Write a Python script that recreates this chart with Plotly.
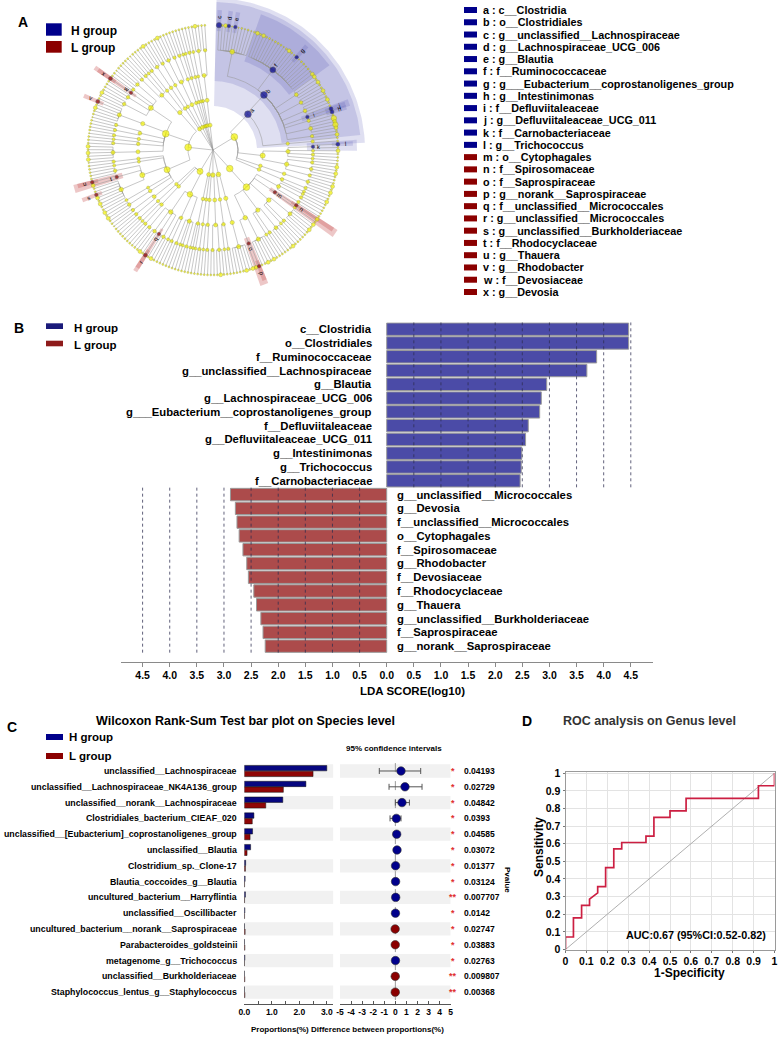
import numpy as np
import plotly.graph_objects as go

W, H = 778, 1039
FONT = "Liberation Sans, Arial, sans-serif"
NAVY = "#00008b"
DRED = "#8b0000"

# ---------------- Panel A : cladogram ----------------
# phylum > class > order > family ; each family is a string with one digit per genus (dot size class)
firmicutes = [
    [["423212121212", "3232212221232121221213", "3232", "232", "2322", "3", "32", "4343", "23"], ["22"]],
    [["32", "3", "22", "2"], ["23", "232", "22"]],
    [["323"]],
    [["22", "3"]],
]
bacteroidetes = [
    [["2", "22", "22"], ["3", "2"], ["32322", "22", "2"], ["2322", "22", "2"], ["232322", "23"]],
]
chloroflexi = [[["323222"]], [["22", "2"]]]
planctomycetes = [[["232", "22"]], [["22", "2"]]]
patescibacteria = [[["22"]], [["2", "2", "2"]]]
actinobacteria = [
    [["22", "2", "2", "22"], ["22", "2"], ["232", "3", "232", "22"]],
    [["22", "2"]],
    [["22"]],
]
proteobacteria = [
    [["22", "12"], ["232"], ["3"], ["22323222", "32", "222"], ["2"], ["21"]],
    [["32323"], ["22", "2"], ["12"], ["22", "21"], ["223232"], ["232", "222", "3", "22", "122"]],
    [["22", "21", "2"], ["22"]],
]
verrucomicrobia = [[["232"]], [["22"]]]
acidobacteria = [[["232", "22"]]]
gemmatimonadetes = [[["22"]]]
deinococcus = [[["2", "2"]]]
cyanobacteria = [[["22"]], [["2"]]]
spirochaetes = [[["232", "22"]]]
phyla = [firmicutes, bacteroidetes, chloroflexi, planctomycetes, patescibacteria, actinobacteria,
         proteobacteria, verrucomicrobia, acidobacteria, gemmatimonadetes, deinococcus, cyanobacteria, spirochaetes]

biomarker_letters = list("abcdefghijklmnopqrstuvwx")
biomarker_names = ["c__Clostridia", "o__Clostridiales", "g__unclassified__Lachnospiraceae",
                   "g__Lachnospiraceae_UCG_006", "g__Blautia", "f__Ruminococcaceae",
                   "g___Eubacterium__coprostanoligenes_group", "g__Intestinimonas", "f__Defluviitaleaceae",
                   "g__Defluviitaleaceae_UCG_011", "f__Carnobacteriaceae", "g__Trichococcus",
                   "o__Cytophagales", "f__Spirosomaceae", "f__Saprospiraceae", "g__norank__Saprospiraceae",
                   "f__unclassified__Micrococcales", "g__unclassified__Micrococcales",
                   "g__unclassified__Burkholderiaceae", "f__Rhodocyclaceae", "g__Thauera", "g__Rhodobacter",
                   "f__Devosiaceae", "g__Devosia"]
biomarker_group = ["H"] * 12 + ["L"] * 12
biomarker_paths = [(0, 0), (0, 0, 0), (0, 0, 0, 0, 0), (0, 0, 0, 0, 3), (0, 0, 0, 0, 5), (0, 0, 0, 1),
                   (0, 0, 0, 1, 14), (0, 0, 0, 6, 0), (0, 0, 0, 5), (0, 0, 0, 5, 0), (0, 1, 0, 0), (0, 1, 0, 0, 0),
                   (1, 0, 1), (1, 0, 1, 0), (1, 0, 4, 1), (1, 0, 4, 1, 0), (5, 0, 2, 1), (5, 0, 2, 1, 0),
                   (6, 0, 3, 0, 5), (6, 0, 3, 1), (6, 0, 3, 1, 1), (6, 1, 4, 0, 4), (6, 1, 5, 2), (6, 1, 5, 2, 0)]

# ---------------- Panel B : LDA ----------------
lda_h_names = ["c__Clostridia", "o__Clostridiales", "f__Ruminococcaceae", "g__unclassified__Lachnospiraceae",
               "g__Blautia", "g__Lachnospiraceae_UCG_006", "g___Eubacterium__coprostanoligenes_group",
               "f__Defluviitaleaceae", "g__Defluviitaleaceae_UCG_011", "g__Intestinimonas", "g__Trichococcus",
               "f__Carnobacteriaceae"]
lda_h = [4.46, 4.46, 3.87, 3.69, 2.95, 2.85, 2.82, 2.61, 2.56, 2.49, 2.48, 2.46]
lda_l_names = ["g__unclassified__Micrococcales", "g__Devosia", "f__unclassified__Micrococcales",
               "o__Cytophagales", "f__Spirosomaceae", "g__Rhodobacter", "f__Devosiaceae", "f__Rhodocyclaceae",
               "g__Thauera", "g__unclassified__Burkholderiaceae", "f__Saprospiraceae", "g__norank__Saprospiraceae"]
lda_l = [2.88, 2.79, 2.76, 2.72, 2.65, 2.58, 2.55, 2.45, 2.40, 2.32, 2.28, 2.24]

# ---------------- Panel C : Wilcoxon ----------------
species = ["unclassified__Lachnospiraceae", "unclassified__Lachnospiraceae_NK4A136_group",
           "unclassified__norank__Lachnospiraceae", "Clostridiales_bacterium_CIEAF_020",
           "unclassified__[Eubacterium]_coprostanoligenes_group", "unclassified__Blautia",
           "Clostridium_sp._Clone-17", "Blautia_coccoides_g__Blautia", "uncultured_bacterium__Harryflintia",
           "unclassified__Oscillibacter", "uncultured_bacterium__norank__Saprospiraceae",
           "Parabacteroides_goldsteinii", "metagenome_g__Trichococcus", "unclassified__Burkholderiaceae",
           "Staphylococcus_lentus_g__Staphylococcus"]
prop_h = [3.00, 2.24, 1.40, 0.35, 0.30, 0.23, 0.05, 0.03, 0.04, 0.02, 0.008, 0.008, 0.02, 0.006, 0.006]
prop_l = [2.50, 1.42, 0.78, 0.29, 0.21, 0.10, 0.04, 0.01, 0.01, 0.01, 0.03, 0.02, 0.006, 0.018, 0.02]
diff_est = [0.51, 0.87, 0.60, 0.09, 0.12, 0.15, 0.02, 0.02, 0.03, 0.01, -0.02, -0.01, 0.01, -0.01, -0.01]
ci_low = [-1.45, -0.57, 0.00, -0.48, -0.10, 0.02, -0.02, -0.01, 0.00, -0.01, -0.05, -0.03, 0.00, -0.03, -0.03]
ci_high = [2.29, 2.41, 1.27, 0.51, 0.30, 0.28, 0.06, 0.05, 0.06, 0.03, 0.01, 0.01, 0.02, 0.01, 0.01]
pvalues = ["0.04193", "0.02729", "0.04842", "0.0393", "0.04585", "0.03072", "0.01377", "0.03124",
           "0.007707", "0.0142", "0.02747", "0.03883", "0.02763", "0.009807", "0.00368"]
ci_ticks = [-5, -4, -3, -2, -1, 0, 1, 2, 3, 4, 5]

# ---------------- Panel D : ROC ----------------
roc_fpr = [0, 0, 0.038, 0.038, 0.077, 0.077, 0.115, 0.115, 0.154, 0.154, 0.192, 0.192, 0.231, 0.231,
           0.269, 0.269, 0.385, 0.385, 0.423, 0.423, 0.5, 0.5, 0.577, 0.577, 0.923, 0.923, 1.0, 1.0]
roc_tpr = [0, 0.071, 0.071, 0.179, 0.179, 0.25, 0.25, 0.286, 0.321, 0.357, 0.357, 0.464, 0.464, 0.571,
           0.571, 0.607, 0.607, 0.643, 0.643, 0.75, 0.75, 0.786, 0.786, 0.857, 0.857, 0.929, 0.929, 1.0]
auc_text = "AUC:0.67 (95%CI:0.52-0.82)"


# ======================= helpers =======================
def xdom(a, b):
    return [a / W, b / W]


def ydom(top, bottom):
    return [1 - bottom / H, 1 - top / H]


annotations = []
shapes = []


def ann(text, x, y, size, xanchor="center", yanchor="middle", color="black", angle=0,
        xref="paper", yref="paper", bold=True):
    if xref == "paper":
        x = x / W
    if yref == "paper":
        y = 1 - y / H
    annotations.append(dict(text=text, x=x, y=y, xref=xref, yref=yref, showarrow=False,
                            xanchor=xanchor, yanchor=yanchor, textangle=angle, borderpad=0,
                            font=dict(family=FONT, size=size, color=color,
                                      weight="bold" if bold else "normal")))


def rect_px(x0, y0, x1, y1, color):
    shapes.append(dict(type="rect", xref="paper", yref="paper", x0=x0 / W, x1=x1 / W,
                       y0=1 - y1 / H, y1=1 - y0 / H, fillcolor=color, line=dict(width=0)))


fig = go.Figure()

# ======================= Panel A =======================
RING = [0, 25, 50, 75, 100, 125]
GENUS_DOT = [0, 1.3, 1.9, 3.9, 5.4]
THETA0, SPAN = 2.0, 355.0


def count_leaves(item):
    if isinstance(item, str):
        return len(item)
    return sum(count_leaves(c) for c in item)


N_LEAF = count_leaves(phyla)
STEP = SPAN / N_LEAF


def leaf_theta(i):
    return THETA0 + (i + 0.5) * STEP


nodes = {}
counter = [0]


def build(item, level, path):
    if isinstance(item, str):
        kids = []
        for gi, ch in enumerate(item):
            idx = counter[0]
            counter[0] += 1
            k = dict(level=5, theta=leaf_theta(idx), lo=idx, hi=idx, size=GENUS_DOT[int(ch)],
                     path=path + (gi,), kids=[])
            nodes[k["path"]] = k
            kids.append(k)
    else:
        kids = [build(c, level + 1, path + (ci,)) for ci, c in enumerate(item)]
    lo, hi = kids[0]["lo"], kids[-1]["hi"]
    node = dict(level=level, theta=(leaf_theta(lo) + leaf_theta(hi)) / 2, lo=lo, hi=hi,
                size=min(6.8, 2.2 + 0.8 * np.sqrt(hi - lo + 1)), path=path, kids=kids)
    nodes[path] = node
    return node


root = build(phyla, 0, ())


def polar(r, th):
    t = np.radians(th)
    return r * np.sin(t), r * np.cos(t)


# highlight wedges
for letter, path, grp in zip(biomarker_letters, biomarker_paths, biomarker_group):
    nd = nodes[tuple(path)]
    lvl = nd["level"]
    pad = 0.9 if (lvl == 5 or grp == "L") else 1.4
    t1 = leaf_theta(nd["lo"]) - pad
    t2 = leaf_theta(nd["hi"]) + pad
    r_in = RING[lvl] - 6
    r_out = 140 + (5 - lvl) * 4
    ts = np.linspace(t1, t2, max(3, int((t2 - t1) / 1.0) + 2))
    pts = [polar(r_out, t) for t in ts] + [polar(r_in, t) for t in ts[::-1]]
    pts.append(pts[0])
    col = "rgba(55,55,165,0.16)" if grp == "H" else "rgba(200,80,80,0.32)"
    fig.add_trace(go.Scatter(x=[p[0] for p in pts], y=[p[1] for p in pts], mode="lines", fill="toself",
                             fillcolor=col, line=dict(width=0), hoverinfo="skip", xaxis="x", yaxis="y"))

# edges
ex, ey = [], []


def add_edges(node):
    r0 = RING[node["level"]]
    for k in node["kids"]:
        r1 = RING[k["level"]]
        pts = []
        if r0 > 0:
            nseg = int(abs(k["theta"] - node["theta"]) / 1.0) + 2
            for t in np.linspace(node["theta"], k["theta"], nseg):
                pts.append(polar(r0, t))
        else:
            pts.append((0.0, 0.0))
        pts.append(polar(r1, k["theta"]))
        for x, y in pts:
            ex.append(x)
            ey.append(y)
        ex.append(None)
        ey.append(None)
        add_edges(k)


add_edges(root)
fig.add_trace(go.Scatter(x=ex, y=ey, mode="lines", line=dict(color="#999999", width=0.55),
                         hoverinfo="skip", xaxis="x", yaxis="y"))

bm_col = {tuple(p): (NAVY if g == "H" else DRED) for p, g in zip(biomarker_paths, biomarker_group)}
yx, yy, ys, bx, by, bs, bc = [], [], [], [], [], [], []
for path, nd in nodes.items():
    if nd["level"] == 0 or nd["size"] <= 0:
        continue
    x, y = polar(RING[nd["level"]], nd["theta"])
    if path in bm_col:
        bx.append(x); by.append(y); bs.append(max(nd["size"], 3.5)); bc.append(bm_col[path])
    else:
        yx.append(x); yy.append(y); ys.append(nd["size"])
fig.add_trace(go.Scatter(x=yx, y=yy, mode="markers", hoverinfo="skip", xaxis="x", yaxis="y",
                         marker=dict(size=ys, color="#f5f500", line=dict(color="#8f8f20", width=0.5))))
fig.add_trace(go.Scatter(x=bx, y=by, mode="markers", hoverinfo="skip", xaxis="x", yaxis="y",
                         marker=dict(size=bs, color=bc, line=dict(color="#333333", width=0.5))))

for letter, path in zip(biomarker_letters, biomarker_paths):
    nd = nodes[tuple(path)]
    r = RING[nd["level"]] + (8 if nd["level"] == 5 else 6)
    x, y = polar(r, nd["theta"])
    th = nd["theta"]
    ang = th - 90 if th <= 180 else th - 270
    ann(letter, x, y, 6, xref="x", yref="y", angle=ang, bold=False)

# Panel A legends
ann("A", 23, 22, 14)
rect_px(46, 23.3, 61.7, 35.7, NAVY)
rect_px(46, 41, 61.7, 52.7, DRED)
ann("H group", 70, 31, 12, xanchor="left")
ann("L group", 70, 48, 12, xanchor="left")
for i, (letter, name, grp) in enumerate(zip(biomarker_letters, biomarker_names, biomarker_group)):
    yc = 10 + i * 12.26
    rect_px(464, yc - 3, 477, yc + 3, NAVY if grp == "H" else DRED)
    ann(f"{letter} : {name}", 482, yc, 10.8, xanchor="left")

# ======================= Panel B =======================
rows_h = list(range(len(lda_h)))
rows_l = [len(lda_h) + i for i in range(len(lda_l))]
fig.add_trace(go.Bar(x=lda_h, y=rows_h, orientation="h", width=0.9, xaxis="x2", yaxis="y2", hoverinfo="skip",
                     marker=dict(color="#4b4ba7", line=dict(color="#9a9a9a", width=1))))
fig.add_trace(go.Bar(x=[-v for v in lda_l], y=rows_l, orientation="h", width=0.9, xaxis="x2", yaxis="y2",
                     hoverinfo="skip", marker=dict(color="#ac4b4b", line=dict(color="#9a9a9a", width=1))))
for i, name in zip(rows_h, lda_h_names):
    ann(name, -0.26, i, 11.3, xanchor="right", xref="x2", yref="y2")
for i, name in zip(rows_l, lda_l_names):
    ann(name, 0.18, i, 11.3, xanchor="left", xref="x2", yref="y2")
grid_b = [0.5, 1.0, 1.5, 2.0, 2.5, 3.0, 3.5, 4.0, 4.5]
for v in grid_b:
    shapes.append(dict(type="line", xref="x2", yref="y2", x0=v, x1=v, y0=-0.5, y1=len(lda_h) - 0.5,
                       line=dict(color="rgba(45,45,80,0.75)", width=1, dash="dot"), layer="above"))
    shapes.append(dict(type="line", xref="x2", yref="y2", x0=-v, x1=-v, y0=len(lda_h) - 0.5,
                       y1=len(lda_h) + len(lda_l) - 0.5,
                       line=dict(color="rgba(45,45,80,0.75)", width=1, dash="dot"), layer="above"))
ticks_b = [-4.5, -4.0, -3.5, -3.0, -2.5, -2.0, -1.5, -1.0, -0.5, 0.0, 0.5, 1.0, 1.5, 2.0, 2.5, 3.0, 3.5, 4.0, 4.5]
ann("B", 19, 328, 14)
rect_px(46, 323.3, 63, 329, "#1a1a7a")
rect_px(46, 340.7, 63, 346.3, "#8e1b1b")
ann("H group", 73, 327.5, 11.5, xanchor="left")
ann("L group", 73, 344.5, 11.5, xanchor="left")
ann("LDA SCORE(log10)", 412, 691, 11.5)

# ======================= Panel C =======================
rows_c = list(range(len(species)))
for i in rows_c[::2]:
    shapes.append(dict(type="rect", xref="x3", yref="y3", x0=0, x1=3.24, y0=i - 0.42, y1=i + 0.42,
                       fillcolor="#f1f1f1", line=dict(width=0), layer="below"))
    shapes.append(dict(type="rect", xref="x4", yref="y4", x0=-5, x1=5, y0=i - 0.42, y1=i + 0.42,
                       fillcolor="#f1f1f1", line=dict(width=0), layer="below"))
shapes.append(dict(type="line", xref="x4", yref="y4", x0=0, x1=0, y0=-0.5, y1=len(species) - 0.5,
                   line=dict(color="#9a9a9a", width=1, dash="dash"), layer="below"))
fig.add_trace(go.Bar(x=prop_h, y=[i - 0.18 for i in rows_c], orientation="h", width=0.34, xaxis="x3", yaxis="y3",
                     hoverinfo="skip", marker=dict(color="#06067f", line=dict(color="#111111", width=0.5))))
fig.add_trace(go.Bar(x=prop_l, y=[i + 0.18 for i in rows_c], orientation="h", width=0.34, xaxis="x3", yaxis="y3",
                     hoverinfo="skip", marker=dict(color="#8f0606", line=dict(color="#111111", width=0.5))))
err_plus = [h - d for h, d in zip(ci_high, diff_est)]
err_minus = [d - l for d, l in zip(diff_est, ci_low)]
fig.add_trace(go.Scatter(x=diff_est, y=rows_c, mode="markers", xaxis="x4", yaxis="y4", hoverinfo="skip",
                         error_x=dict(type="data", symmetric=False, array=err_plus, arrayminus=err_minus,
                                      color="#555555", thickness=1, width=3),
                         marker=dict(size=8.5, color=[NAVY if d > 0 else DRED for d in diff_est],
                                     line=dict(color="#333333", width=0.6))))
for i, name, p in zip(rows_c, species, pvalues):
    ann(name, 237.7, i, 8.8, xanchor="right", yref="y3")
    ann("**" if float(p) < 0.01 else "*", 452.7, i, 9, color="#e03030", yref="y3")
    ann(p, 462.7, i, 8.5, xanchor="left", yref="y3")
ann("C", 12, 727, 14)
ann("Wilcoxon Rank-Sum Test bar plot on Species level", 245, 721, 12.5)
rect_px(46, 734, 63, 740, NAVY)
rect_px(46, 753, 63, 759, DRED)
ann("H group", 68, 737, 11.5, xanchor="left")
ann("L group", 68, 756, 11.5, xanchor="left")
ann("95% confidence intervals", 394, 748, 8)
ann("Pvalue", 508, 880, 8, angle=90)
ann("Proportions(%) Difference between proportions(%)", 347, 1029, 8)

# ======================= Panel D =======================
fig.add_trace(go.Scatter(x=[0, 1], y=[0, 1], mode="lines", line=dict(color="#9a9a9a", width=0.8),
                         xaxis="x5", yaxis="y5", hoverinfo="skip"))
fig.add_trace(go.Scatter(x=roc_fpr, y=roc_tpr, mode="lines", line=dict(color="#cc1f42", width=1.7),
                         xaxis="x5", yaxis="y5", hoverinfo="skip"))
ann("D", 527, 721, 14)
ann("ROC analysis on Genus level", 649.5, 721, 12.5, color="#333333")
ann("Sensitivity", 538.3, 846.7, 12, angle=-90)
ann("1-Specificity", 689, 973, 12)
ann(auc_text, 767, 935, 10.8, xanchor="right")
roc_ticks = [0, 0.1, 0.2, 0.3, 0.4, 0.5, 0.6, 0.7, 0.8, 0.9, 1]
roc_ticktext = ["0", "0.1", "0.2", "0.3", "0.4", "0.5", "0.6", "0.7", "0.8", "0.9", "1"]

tickfont_b = dict(family=FONT, size=10.5, color="black", weight="bold")
tickfont_c = dict(family=FONT, size=8.5, color="black", weight="bold")

fig.update_layout(
    width=W, height=H, margin=dict(l=0, r=0, t=0, b=0, autoexpand=False), paper_bgcolor="white",
    plot_bgcolor="white", showlegend=False, barmode="overlay", font=dict(family=FONT, color="black"),
    xaxis=dict(domain=xdom(63, 373), range=[-150, 160], visible=False, anchor="y"),
    yaxis=dict(domain=ydom(0, 300), range=[-150, 150], visible=False, anchor="x"),
    xaxis2=dict(domain=xdom(120.9, 652.5), range=[-4.9, 4.9], anchor="y2", showgrid=False, zeroline=False,
                showline=True, linecolor="#8a8a8a", linewidth=1, ticks="outside", ticklen=4, tickcolor="#8a8a8a",
                tickangle=0, tickvals=ticks_b, ticktext=[f"{abs(v):.1f}" for v in ticks_b], tickfont=tickfont_b),
    yaxis2=dict(domain=ydom(322.3, 661.7), range=[24.13, -0.5], visible=False, anchor="x2"),
    xaxis3=dict(domain=xdom(244.3, 333.4), range=[0, 3.24], anchor="y3", showgrid=False, zeroline=False,
                showline=True, linecolor="#555555", linewidth=1, ticks="inside", ticklen=3, tickcolor="#555555",
                tickangle=0, tickvals=[0, 0.5, 1, 1.5, 2, 2.5, 3], ticktext=["0.0", "", "1.0", "", "2.0", "", "3.0"],
                tickfont=tickfont_c),
    yaxis3=dict(domain=ydom(763.1, 1004), range=[14.75, -0.5], visible=False, anchor="x3"),
    xaxis4=dict(domain=xdom(340, 450.7), range=[-5, 5], anchor="y4", showgrid=False, zeroline=False,
                showline=True, linecolor="#555555", linewidth=1, ticks="inside", ticklen=3, tickcolor="#555555",
                tickangle=0, tickvals=ci_ticks, ticktext=[str(v) for v in ci_ticks], tickfont=tickfont_c),
    yaxis4=dict(domain=ydom(763.1, 1004), range=[14.75, -0.5], visible=False, anchor="x4"),
    xaxis5=dict(domain=xdom(565.5, 774.5), range=[0, 1], anchor="y5", showgrid=True, gridcolor="#e3e3e3",
                zeroline=False, showline=True, mirror=True, linecolor="#9a9a9a", linewidth=1, ticks="outside",
                ticklen=2, tickcolor="#777777", tickangle=0, tickvals=roc_ticks, ticktext=roc_ticktext,
                tickfont=tickfont_b),
    yaxis5=dict(domain=ydom(771.8, 949.5), range=[0, 1.008], anchor="x5", showgrid=True, gridcolor="#e3e3e3",
                zeroline=False, showline=True, mirror=True, linecolor="#9a9a9a", linewidth=1, ticks="outside",
                ticklen=2, tickcolor="#777777", tickvals=roc_ticks, ticktext=roc_ticktext, tickfont=tickfont_b),
    annotations=annotations, shapes=shapes,
)

fig.write_html("out.html", config={"displayModeBar": False},
               post_script="document.body.style.margin='0px';")
